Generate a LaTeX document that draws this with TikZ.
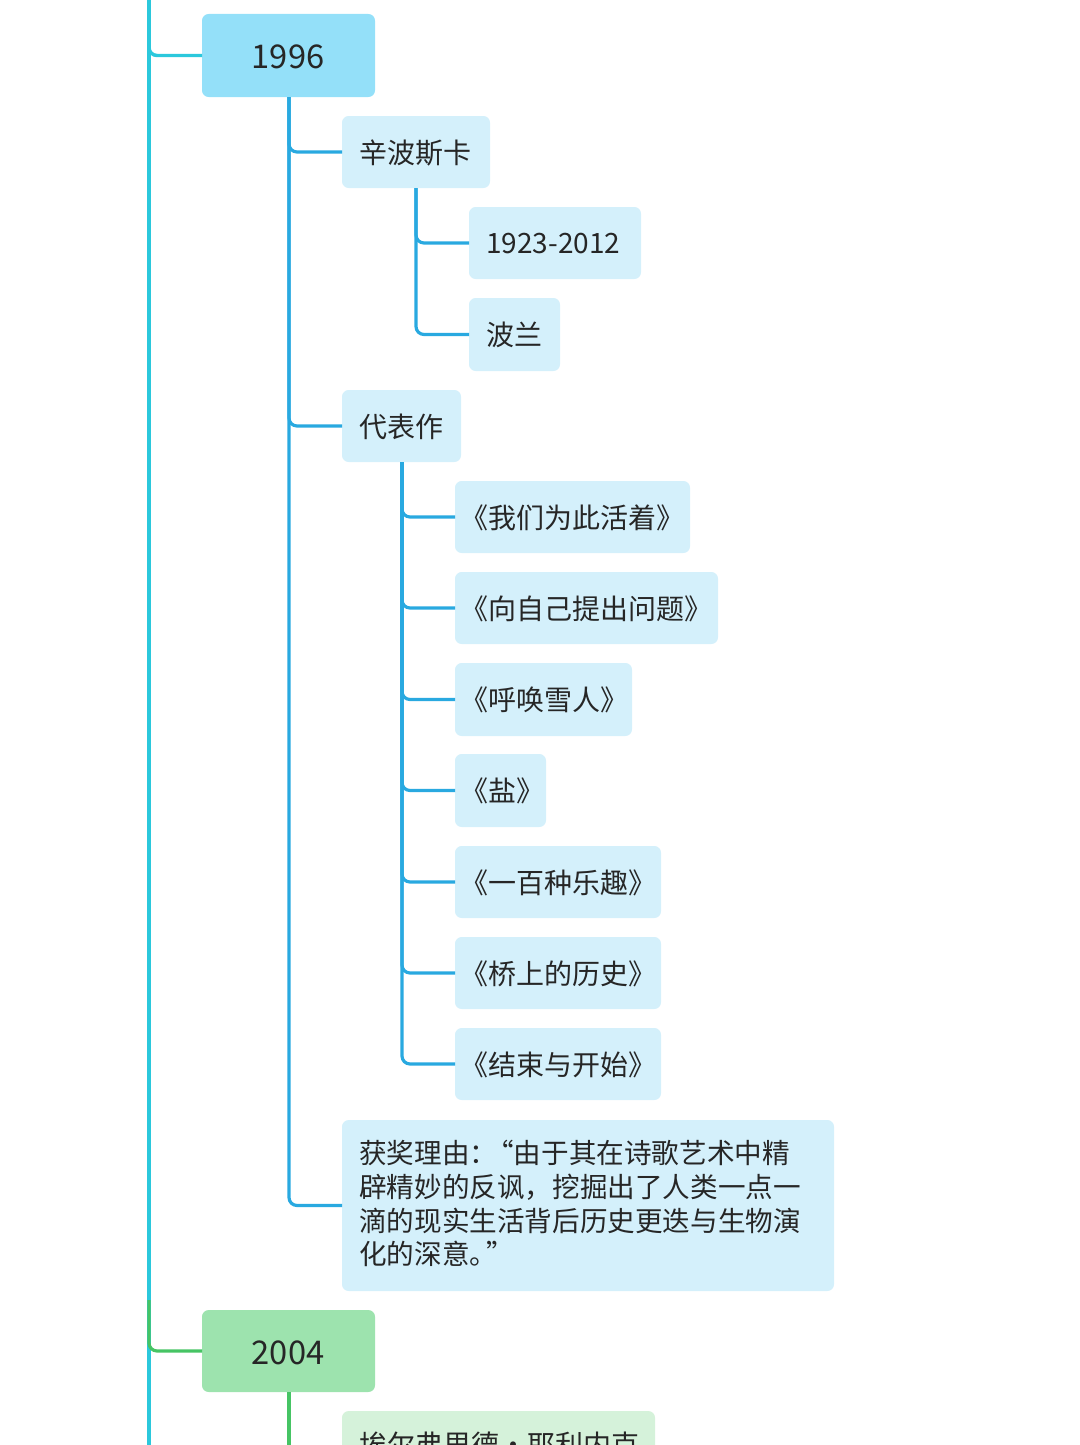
\documentclass[tikz,border=0pt]{standalone}
\usepackage{fontspec}
\setmainfont{Noto Sans CJK SC}
\begin{document}
\begin{tikzpicture}[x=0.75pt,y=-0.75pt,
  lbl/.style={anchor=west,font=\fontsize{21}{26}\selectfont,text=black!85,inner sep=0pt},
  blue1/.style={line width=2.4pt,draw={rgb,255:red,41;green,169;blue,224},rounded corners=6pt},
  cyan1/.style={line width=2.6pt,draw={rgb,255:red,43;green,200;blue,220},rounded corners=6pt},
  green1/.style={line width=2.4pt,draw={rgb,255:red,70;green,196;blue,100},rounded corners=6pt}]
\definecolor{yr}{RGB}{148,224,249}
\definecolor{lb}{RGB}{212,240,251}
\definecolor{gy}{RGB}{157,227,174}
\definecolor{lg}{RGB}{213,242,218}
\useasboundingbox (0,0) rectangle (1080,1445);
\clip (0,0) rectangle (1080,1445);
\newcommand{\bx}[6]{\fill[#6,rounded corners=5pt] (#2,#3) rectangle (#4,#5); \coordinate (#1) at (#2,{(#3+#5)/2});}
\bx{y96}{202}{14}{375}{97}{yr}
\node[font=\fontsize{24.5}{28}\selectfont,text=black!85] (t96) at (288,57) {1996};
\bx{a}{342}{116}{490}{188}{lb} \node[lbl] (ta) at (359,153) {辛波斯卡};
\bx{a1}{469}{207}{641}{279}{lb} \node[lbl] (ta1) at (486,244) {1923-2012};
\bx{a2}{469}{298}{560}{371}{lb} \node[lbl] (ta2) at (486,335) {波兰};
\bx{b}{342}{390}{461}{462}{lb} \node[lbl] (tb) at (359,427) {代表作};
\bx{w1}{455}{481}{690}{553}{lb} \node[lbl] (tw1) at (460,518) {《我们为此活着》};
\bx{w2}{455}{572}{718}{644}{lb} \node[lbl] (tw2) at (460,609) {《向自己提出问题》};
\bx{w3}{455}{663}{632}{736}{lb} \node[lbl] (tw3) at (460,700) {《呼唤雪人》};
\bx{w4}{455}{754}{546}{827}{lb} \node[lbl] (tw4) at (460,791) {《盐》};
\bx{w5}{455}{846}{661}{918}{lb} \node[lbl] (tw5) at (460,883) {《一百种乐趣》};
\bx{w6}{455}{937}{661}{1009}{lb} \node[lbl] (tw6) at (460,974) {《桥上的历史》};
\bx{w7}{455}{1028}{661}{1100}{lb} \node[lbl] (tw7) at (460,1065) {《结束与开始》};
\bx{c}{342}{1120}{834}{1291}{lb}
\node[anchor=north west,align=left,font=\fontsize{20.7}{25.3}\selectfont,text=black!85,inner sep=0pt] (tc) at (359,1140) {获奖理由：\kern-0.4em“由于其在诗歌艺术中精\\辟精妙的反讽，挖掘出了人类一点一\\滴的现实生活背后历史更迭与生物演\\化的深意。\kern-0.4em”};
\bx{y04}{202}{1310}{375}{1392}{gy}
\node[font=\fontsize{24.5}{28}\selectfont,text=black!85] (t04) at (288,1353) {2004};
\bx{d}{342}{1411}{655}{1500}{lg}
\node[lbl,anchor=north west] (td) at (359,1432) {埃尔弗里德·耶利内克};
\coordinate (top) at (149,0);
\coordinate (bot) at (149,1445);
\coordinate (p96) at (289,97);
\coordinate (pa) at (416,188);
\coordinate (pb) at (402,462);
\coordinate (p04) at (289,1392);
\coordinate (e04) at (289,1445);
\draw[cyan1] (top) -- (bot);
\draw[cyan1] (top) |- (y96);
\draw[green1] (149,1300) |- (y04);
\draw[blue1] (p96) |- (a);
\draw[blue1] (p96) |- (b);
\draw[blue1] (p96) |- (c);
\draw[blue1] (pa) |- (a1);
\draw[blue1] (pa) |- (a2);
\foreach \w in {w1,w2,w3,w4,w5,w6,w7} \draw[blue1] (pb) |- (\w);
\draw[green1] (p04) -- (e04);
\end{tikzpicture}
\end{document}
